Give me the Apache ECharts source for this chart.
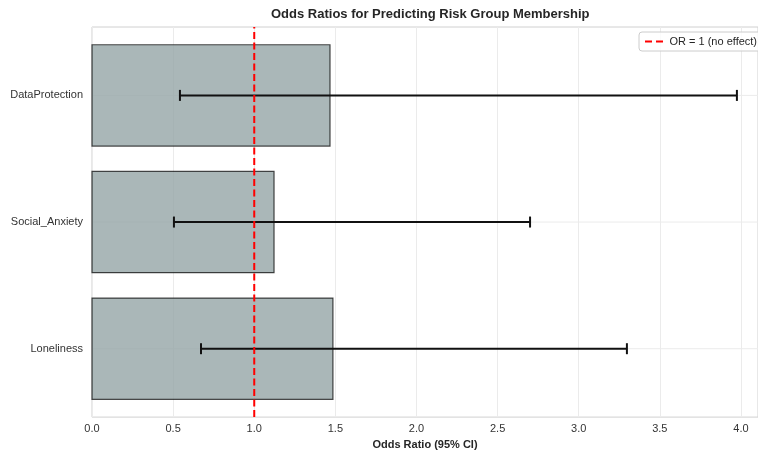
<!DOCTYPE html>
<html>
<head>
<meta charset="utf-8">
<script src="https://cdn.jsdelivr.net/npm/echarts@6/dist/echarts.min.js"></script>
<style>html,body{margin:0;padding:0;background:#fff}#c{width:758px;height:455px}</style>
</head>
<body>
<div id="c"></div>
<script>
const categories = ['Loneliness', 'Social_Anxiety', 'DataProtection'];
const oddsRatio = [1.485, 1.122, 1.467];
const ciLow = [0.672, 0.505, 0.542];
const ciHigh = [3.297, 2.70, 3.975];
const refValue = 1;

const FONT = '"Liberation Sans", Arial, sans-serif';
const yMin = -0.54, yMax = 2.54, xMax = 4.105;

const barData = categories.map((c, i) => [i, oddsRatio[i], ciLow[i], ciHigh[i]]);
const gridData = categories.map((c, i) => [i]);

const chart = echarts.init(document.getElementById('c'), null, {renderer: 'canvas'});
chart.setOption({
  animation: false,
  backgroundColor: '#fff',
  title: {
    text: 'Odds Ratios for Predicting Risk Group Membership',
    left: 271, top: 8, padding: 0,
    textStyle: {fontFamily: FONT, fontSize: 13, fontWeight: 'bold', color: '#262626'}
  },
  legend: {
    left: 639, top: 32,
    padding: [4, 6],
    itemWidth: 21, itemHeight: 2, itemGap: 5,
    backgroundColor: 'rgba(255,255,255,0.8)',
    borderColor: '#cccccc', borderWidth: 1, borderRadius: 3,
    textStyle: {fontFamily: FONT, fontSize: 11, color: '#262626'},
    data: [{name: 'OR = 1 (no effect)', icon: 'path://M0,0H7V2H0Z M11,0H18V2H11Z', itemStyle: {color: '#ff0000'}}]
  },
  grid: {left: 92, right: 0, top: 27, bottom: 34, show: true, borderColor: '#d0d0d0', borderWidth: 1, containLabel: false},
  xAxis: {
    type: 'value', min: 0, max: xMax, interval: 0.5,
    name: 'Odds Ratio (95% CI)', nameLocation: 'middle', nameGap: 20,
    nameTextStyle: {fontFamily: FONT, fontSize: 11, fontWeight: 'bold', color: '#262626'},
    axisLine: {show: false}, axisTick: {show: false},
    axisLabel: {fontFamily: FONT, fontSize: 11, color: '#333', margin: 6, showMaxLabel: false,
      formatter: v => v.toFixed(1)},
    splitLine: {show: true, lineStyle: {color: '#ebebeb', width: 1}}
  },
  yAxis: {
    type: 'value', min: yMin, max: yMax,
    axisLine: {show: false}, axisTick: {show: false},
    splitLine: {show: false},
    axisLabel: {fontFamily: FONT, fontSize: 11, color: '#333', margin: 9,
      customValues: [0, 1, 2],
      formatter: v => categories[Math.round(v)]}
  },
  series: [
    {
      type: 'custom', name: 'hgrid', silent: true, z: 1,
      data: gridData,
      encode: {y: 0},
      renderItem: (params, api) => {
        const y = api.value(0);
        const a = api.coord([0, y]), b = api.coord([xMax, y]);
        return {type: 'line', shape: {x1: a[0], y1: a[1], x2: b[0], y2: b[1]},
          style: {stroke: '#ebebeb', lineWidth: 1}};
      }
    },
    {
      type: 'custom', name: 'bars', z: 2,
      data: barData,
      encode: {y: 0, x: [1, 2, 3]},
      renderItem: (params, api) => {
        const y = api.value(0), or = api.value(1), lo = api.value(2), hi = api.value(3);
        const p0 = api.coord([0, y]), p1 = api.coord([or, y]);
        const h = api.size([0, 0.8])[1];
        const pl = api.coord([lo, y]), ph = api.coord([hi, y]);
        const cap = 5.5;
        return {type: 'group', children: [
          {type: 'rect', shape: {x: p0[0], y: p0[1] - h / 2, width: p1[0] - p0[0], height: h},
            style: {fill: 'rgba(149,165,166,0.8)', stroke: 'rgba(0,0,0,0.7)', lineWidth: 1.2}},
          {type: 'line', shape: {x1: pl[0], y1: pl[1], x2: ph[0], y2: ph[1]},
            style: {stroke: '#111', lineWidth: 2}},
          {type: 'line', shape: {x1: pl[0], y1: pl[1] - cap, x2: pl[0], y2: pl[1] + cap},
            style: {stroke: '#111', lineWidth: 2}},
          {type: 'line', shape: {x1: ph[0], y1: ph[1] - cap, x2: ph[0], y2: ph[1] + cap},
            style: {stroke: '#111', lineWidth: 2}}
        ]};
      }
    },
    {
      type: 'line', name: 'OR = 1 (no effect)', z: 5,
      data: [[refValue, yMin], [refValue, yMax]],
      symbol: 'none', silent: true,
      itemStyle: {color: '#ff0000'},
      lineStyle: {color: '#ff0000', width: 2, type: [7, 3.5]}
    }
  ]
});
</script>
</body>
</html>
